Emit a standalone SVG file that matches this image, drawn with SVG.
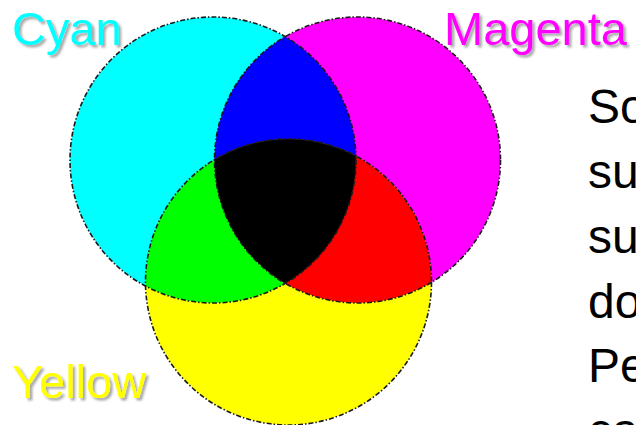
<svg xmlns="http://www.w3.org/2000/svg" width="636" height="425" viewBox="0 0 636 425">
<style>
.outline{fill:none;stroke:#1a1a1a;stroke-width:1.6;stroke-dasharray:5 2 1.5 2}
.label{font-family:"Liberation Sans",Arial,sans-serif;font-size:47px;filter:url(#shadow)}
.body{font-family:"Liberation Sans",Arial,sans-serif;font-size:48px;fill:#000}
</style>
<defs>
<filter id="shadow" x="-10%" y="-20%" width="130%" height="150%">
<feDropShadow dx="2.5" dy="2.5" stdDeviation="1.2" flood-color="#000" flood-opacity="0.35"/>
</filter>
<circle id="cC" cx="213" cy="160" r="143"/>
<circle id="cM" cx="357.5" cy="160" r="143"/>
<circle id="cY" cx="288.5" cy="282" r="143"/>
<clipPath id="clipC"><use href="#cC"/></clipPath>
<clipPath id="clipM"><use href="#cM"/></clipPath>
</defs>
<rect width="636" height="425" fill="#fff"/>
<g id="cyan"><use href="#cC" fill="#00FFFF"/></g>
<g id="magenta"><use href="#cM" fill="#FF00FF"/></g>
<g id="yellow"><use href="#cY" fill="#FFFF00"/></g>
<g id="overlaps">
<g id="blue" clip-path="url(#clipC)"><use href="#cM" fill="#0000FF"/></g>
<g id="green" clip-path="url(#clipC)"><use href="#cY" fill="#00FF00"/></g>
<g id="red" clip-path="url(#clipM)"><use href="#cY" fill="#FF0000"/></g>
<g id="black" clip-path="url(#clipC)"><g clip-path="url(#clipM)"><use href="#cY" fill="#000"/></g></g>
</g>
<g id="outlines">
<use href="#cC" class="outline"/>
<use href="#cM" class="outline"/>
<use href="#cY" class="outline"/>
</g>
<g id="labels">
<text class="label" x="12" y="45" fill="#00FFFF">Cyan</text>
<text class="label" x="444" y="45" fill="#FF00FF">Magenta</text>
<text class="label" x="12" y="398" fill="#FFFF00">Yellow</text>
</g>
<g id="bodytext">
<text class="body" x="588" y="123">So</text>
<text class="body" x="588" y="188">su</text>
<text class="body" x="588" y="253">su</text>
<text class="body" x="588" y="318">do</text>
<text class="body" x="588" y="382">Pe</text>
<text class="body" x="588" y="447">ca</text>
</g>
</svg>
